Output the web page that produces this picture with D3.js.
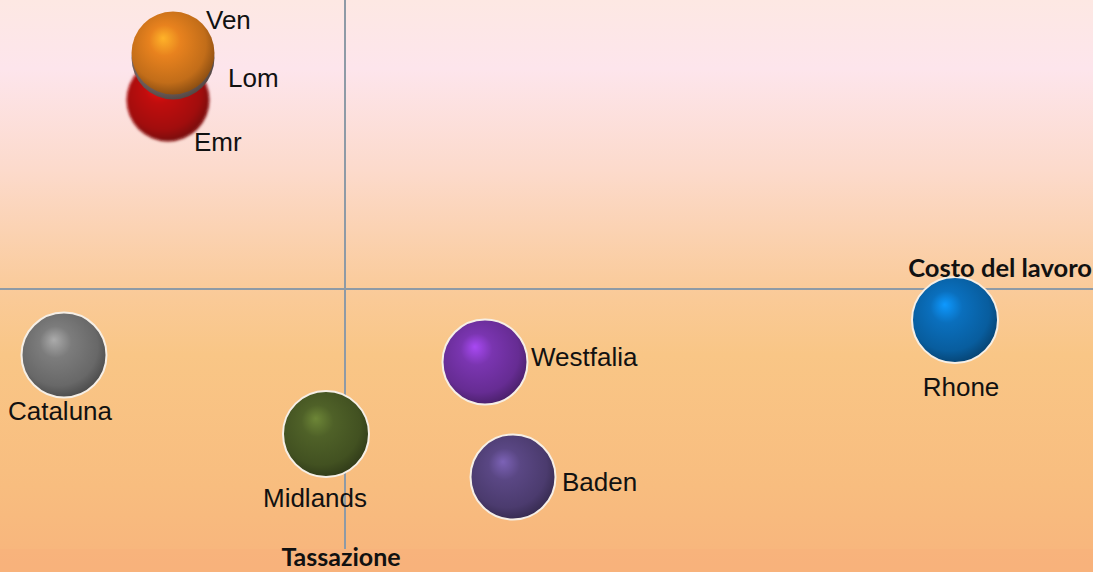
<!DOCTYPE html>
<html>
<head>
<meta charset="utf-8">
<script src="https://cdn.jsdelivr.net/npm/d3@7"></script>
<style>
  html, body { margin: 0; padding: 0; overflow: hidden; }
  svg { display: block; }
</style>
</head>
<body>
<svg width="1093" height="572"></svg>
<script>
"use strict";

// regioni e valori (indici, asse 0 = media)
const regions = ["Emr", "Lom", "Ven", "Cataluna", "Midlands", "Westfalia", "Baden", "Rhone"];
const costoLavoro = [-1.77, -1.72, -1.72, -2.81, -0.19, 1.40, 1.68, 6.10];
const tassazione = [1.89, 2.31, 2.36, -0.66, -1.45, -0.73, -1.88, -0.31];
const dimensione = [40, 40, 40, 42, 43, 42, 42, 43];
const colori = ["#c00a0a", "#8a7470", "#e8821e", "#7c7c7c", "#4f6128", "#7a35b0", "#5a4784", "#0a6fbd"];

const xTitle = "Costo del lavoro";
const yTitle = "Tassazione";

const width = 1093, height = 572;
const svg = d3.select("svg");
const defs = svg.append("defs");

// sfondo sfumato
const bg = defs.append("linearGradient").attr("id", "bg")
  .attr("x1", 0).attr("y1", 0).attr("x2", 0).attr("y2", 1);
[[0, "#fde8e3"], [0.12, "#fde5ec"], [0.3, "#fcdacb"], [0.5, "#facb9b"], [0.62, "#f9c686"],
 [0.85, "#f8bd7f"], [1, "#f8b47c"]].forEach(s => bg.append("stop").attr("offset", s[0]).attr("stop-color", s[1]));
svg.append("rect").attr("width", width).attr("height", height).attr("fill", "url(#bg)");
svg.append("rect").attr("y", 549).attr("width", width).attr("height", 23).attr("fill", "#f8b07c").attr("opacity", 0.6);

// scale: 100px per unità, assi incrociati a (345, 289)
const xScale = d3.scaleLinear().domain([-3.45, 7.48]).range([0, width]);
const yScale = d3.scaleLinear().domain([-2.83, 2.89]).range([height, 0]);
const rScale = d3.scaleSqrt().domain([0, d3.max(dimensione)]).range([0, 43]);

// assi
svg.append("line")
  .attr("x1", 0).attr("x2", width)
  .attr("y1", yScale(0)).attr("y2", yScale(0))
  .attr("stroke", "#8e9aa6").attr("stroke-width", 2);
svg.append("line")
  .attr("x1", xScale(0)).attr("x2", xScale(0))
  .attr("y1", 0).attr("y2", 549)
  .attr("stroke", "#8e9aa6").attr("stroke-width", 2);

const data = regions.map((name, i) => ({
  name, x: costoLavoro[i], y: tassazione[i], size: dimensione[i], color: colori[i], i
}));

// sfocatura leggera per la sfera Emr (in ombra)
defs.append("filter").attr("id", "soft")
  .append("feGaussianBlur").attr("stdDeviation", 1.5);

// gradienti delle sfere
data.forEach(d => {
  const c = d3.color(d.color);
  const g = defs.append("radialGradient").attr("id", "ball" + d.i)
    .attr("cx", "45%").attr("cy", "42%").attr("r", "62%")
    .attr("fx", "38%").attr("fy", "32%");
  g.append("stop").attr("offset", "0%").attr("stop-color", c.brighter(0.9));
  g.append("stop").attr("offset", "30%").attr("stop-color", c);
  g.append("stop").attr("offset", "75%").attr("stop-color", c.darker(0.5));
  g.append("stop").attr("offset", "100%").attr("stop-color", c.darker(1.6));
});

svg.selectAll("circle.ball")
  .data(data)
  .enter()
  .append("circle")
  .attr("class", "ball")
  .attr("cx", d => xScale(d.x))
  .attr("cy", d => yScale(d.y))
  .attr("r", d => rScale(d.size))
  .attr("fill", d => "url(#ball" + d.i + ")")
  .attr("filter", d => d.name === "Emr" ? "url(#soft)" : null)
  .attr("stroke", d => d.name === "Emr" || d.name === "Lom" || d.name === "Ven" ? "none" : "#f6efe6")
  .attr("stroke-width", 2);

// posizione etichette rispetto alla sfera
const place = {
  Ven: [33, -33, "start"], Lom: [55, 20, "start"], Emr: [26, 42, "start"],
  Cataluna: [-4, 56, "middle"], Midlands: [-11, 64, "middle"],
  Westfalia: [46, -5, "start"], Baden: [49, 5, "start"], Rhone: [6, 67, "middle"]
};

svg.selectAll("text.lbl")
  .data(data)
  .enter()
  .append("text")
  .attr("class", "lbl")
  .attr("x", d => xScale(d.x) + place[d.name][0])
  .attr("y", d => yScale(d.y) + place[d.name][1])
  .attr("text-anchor", d => place[d.name][2])
  .attr("dominant-baseline", "central")
  .style("font-family", "'Liberation Sans', Arial, sans-serif")
  .style("font-size", "26px")
  .style("fill", "#111")
  .text(d => d.name);

// titoli assi
svg.append("text")
  .attr("x", width - 1).attr("y", yScale(0) - 12)
  .attr("text-anchor", "end")
  .style("font-family", "Lato, 'Open Sans', sans-serif")
  .style("font-weight", "bold")
  .style("font-size", "25.5px")
  .style("fill", "#111")
  .text(xTitle);
svg.append("text")
  .attr("x", xScale(0) - 4).attr("y", 566)
  .attr("text-anchor", "middle")
  .style("font-family", "Lato, 'Open Sans', sans-serif")
  .style("font-weight", "bold")
  .style("font-size", "25px")
  .style("fill", "#111")
  .text(yTitle);
</script>
</body>
</html>
